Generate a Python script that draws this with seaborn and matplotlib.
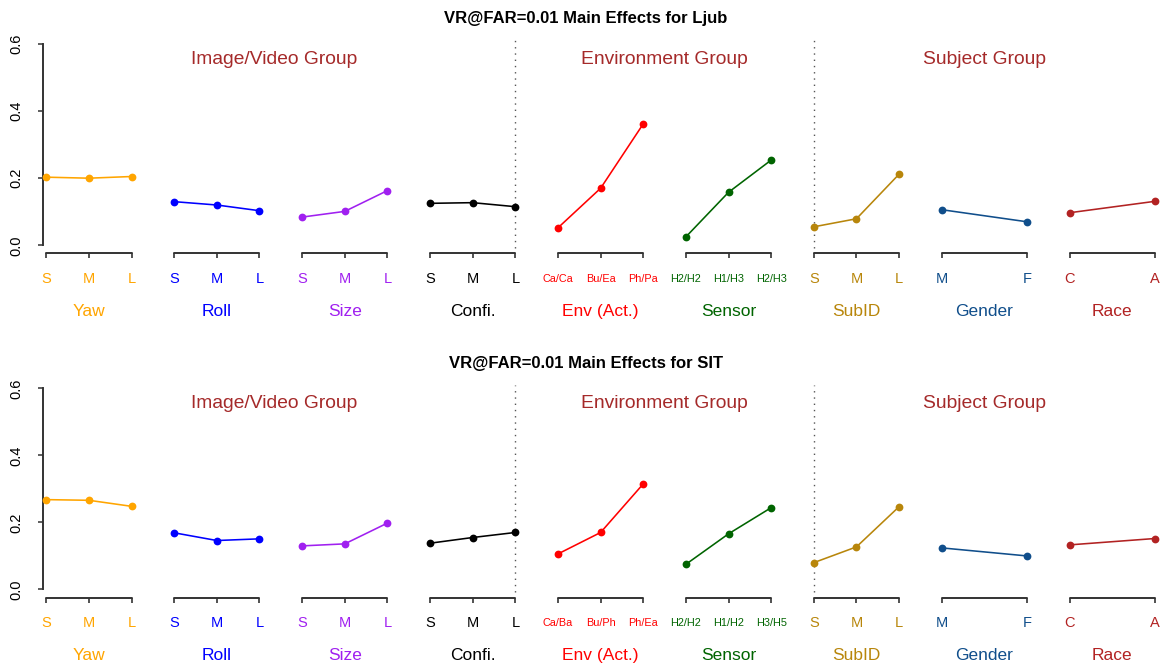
import numpy as np
import pandas as pd
import matplotlib
matplotlib.use("Agg")
import matplotlib.pyplot as plt
import matplotlib.transforms as mtransforms
from matplotlib.markers import TICKDOWN
import seaborn as sns

# ---- data -------------------------------------------------------------
factors = ["Yaw", "Roll", "Size", "Confi.", "Env (Act.)", "Sensor",
           "SubID", "Gender", "Race"]
factor_colors = ["#FFA500", "#0000FF", "#A020F0", "#000000", "#FF0000",
                 "#006400", "#B8860B", "#104E8B", "#B22222"]

levels_ljub = [["S", "M", "L"], ["S", "M", "L"], ["S", "M", "L"],
               ["S", "M", "L"], ["Ca/Ca", "Bu/Ea", "Ph/Pa"],
               ["H2/H2", "H1/H3", "H2/H3"], ["S", "M", "L"],
               ["M", "F"], ["C", "A"]]
levels_sit = [["S", "M", "L"], ["S", "M", "L"], ["S", "M", "L"],
              ["S", "M", "L"], ["Ca/Ba", "Bu/Ph", "Ph/Ea"],
              ["H2/H2", "H1/H2", "H3/H5"], ["S", "M", "L"],
              ["M", "F"], ["C", "A"]]

vr_ljub = [[0.203, 0.200, 0.205], [0.130, 0.120, 0.103],
           [0.084, 0.101, 0.163], [0.125, 0.127, 0.115],
           [0.052, 0.170, 0.362], [0.025, 0.158, 0.254],
           [0.055, 0.079, 0.212], [0.106, 0.070], [0.097, 0.131]]
vr_sit = [[0.268, 0.266, 0.248], [0.169, 0.146, 0.151],
          [0.130, 0.136, 0.198], [0.138, 0.155, 0.170],
          [0.106, 0.170, 0.315], [0.075, 0.166, 0.244],
          [0.080, 0.127, 0.247], [0.124, 0.100], [0.133, 0.152]]

group_names = ["Image/Video Group", "Environment Group", "Subject Group"]
group_members = [["Yaw", "Roll", "Size", "Confi."],
                 ["Env (Act.)", "Sensor"],
                 ["SubID", "Gender", "Race"]]

panel_titles = ["VR@FAR=0.01 Main Effects for Ljub",
                "VR@FAR=0.01 Main Effects for SIT"]
y_ticks = [0.0, 0.2, 0.4, 0.6]

# ---- style ------------------------------------------------------------
sns.set_theme(style="white")
plt.rcParams["font.family"] = ["Liberation Sans", "DejaVu Sans"]
plt.rcParams["text.color"] = "black"
plt.rcParams["ytick.color"] = "black"
AXIS_GREY = "#333333"
GROUP_COLOR = "#A52A2A"

W, H = 1161, 663
fig = plt.figure(figsize=(W / 100, H / 100), dpi=100)

# pixel geometry of the two plot regions
x0_px, unit_px = 46.3, 42.64        # position 0 and width of one slot
left_px, right_px = 42.7, 1161.0
panels_px = [(36.0, 253.3), (380.3, 597.5)]   # (top, bottom)
title_y_px = [18.0, 363.3]
group_label_nudge = [-0.15, 0.0, 0.0]        # in slot units

xlim = ((left_px - x0_px) / unit_px, (right_px - x0_px) / unit_px)
ylim = (-0.024, 0.624)

def level_positions(level_lists):
    pos = []
    for i, lv in enumerate(level_lists):
        start = 3 * i
        pos.append(list(np.linspace(start, start + 2, len(lv))))
    return pos

palette = dict(zip(factors, factor_colors))

for p, (levels, values, title) in enumerate(
        [(levels_ljub, vr_ljub, panel_titles[0]),
         (levels_sit, vr_sit, panel_titles[1])]):
    top_px, bot_px = panels_px[p]
    ax = fig.add_axes([left_px / W, (H - bot_px) / H,
                       (right_px - left_px) / W, (bot_px - top_px) / H])
    positions = level_positions(levels)

    df = pd.DataFrame({
        "factor": [f for f, lv in zip(factors, levels) for _ in lv],
        "level": [l for lv in levels for l in lv],
        "pos": [x for ps in positions for x in ps],
        "vr": [v for vs in values for v in vs],
    })

    sns.lineplot(data=df, x="pos", y="vr", hue="factor", palette=palette,
                 hue_order=factors, estimator=None, sort=False, legend=False,
                 marker="o", markersize=5.6, markeredgewidth=0,
                 linewidth=1.15, ax=ax, clip_on=False, zorder=3)

    ax.set_xlim(*xlim)
    ax.set_ylim(*ylim)
    ax.set_xlabel("")
    ax.set_ylabel("")
    ax.set_xticks([])

    # y axis: left spine only
    for side in ["top", "right", "bottom"]:
        ax.spines[side].set_visible(False)
    ax.spines["left"].set_bounds(0, 0.6)
    ax.spines["left"].set_color(AXIS_GREY)
    ax.spines["left"].set_linewidth(1.4)
    ax.set_yticks(y_ticks)
    ax.set_yticklabels([f"{t:.1f}" for t in y_ticks], rotation=90,
                       va="center", fontsize=10.5)
    ax.tick_params(axis="y", left=True, length=3.6, width=1.1,
                   color=AXIS_GREY, pad=10, labelcolor="black")

    # one x axis segment per factor, with coloured level labels
    blend = mtransforms.blended_transform_factory(ax.transData, ax.transAxes)
    for f, col, lv, ps in zip(factors, factor_colors, levels, positions):
        ax.plot(ps, [0] * len(ps), transform=blend, color=AXIS_GREY,
                lw=1.4, marker=TICKDOWN, ms=3.6, mew=1.2, clip_on=False)
        small = max(len(s) for s in lv) > 1
        for x, lab in zip(ps, lv):
            ax.annotate(lab, (x, 0), xycoords=blend, xytext=(0, -18.5),
                        textcoords="offset points", ha="center", va="center",
                        color=col, fontsize=7.8 if small else 10.5,
                        annotation_clip=False)
        ax.annotate(f, (np.mean([ps[0], ps[-1]]), 0), xycoords=blend,
                    xytext=(0, -42), textcoords="offset points",
                    ha="center", va="center", color=col, fontsize=12.5,
                    annotation_clip=False)

    # group headings and dotted separators
    span = {f: (ps[0], ps[-1]) for f, ps in zip(factors, positions)}
    for name, members, nudge in zip(group_names, group_members,
                                    group_label_nudge):
        lo = span[members[0]][0]
        hi = span[members[-1]][1]
        ax.text((lo + hi) / 2 + nudge, 0.555, name, ha="center",
                va="center", color=GROUP_COLOR, fontsize=13.9)
    sep_x = [span[group_members[0][-1]][1], span[group_members[2][0]][0]]
    for sx in sep_x:
        ax.axvline(sx, ymin=0.025, ymax=0.98, color="#555555", lw=1.0,
                   ls=(0, (1, 3.5)), zorder=1)

    fig.text(586 / W, (H - title_y_px[p]) / H, title, ha="center",
             va="center", fontsize=12, fontweight="bold", color="black")

fig.savefig("out.png", dpi=100)
